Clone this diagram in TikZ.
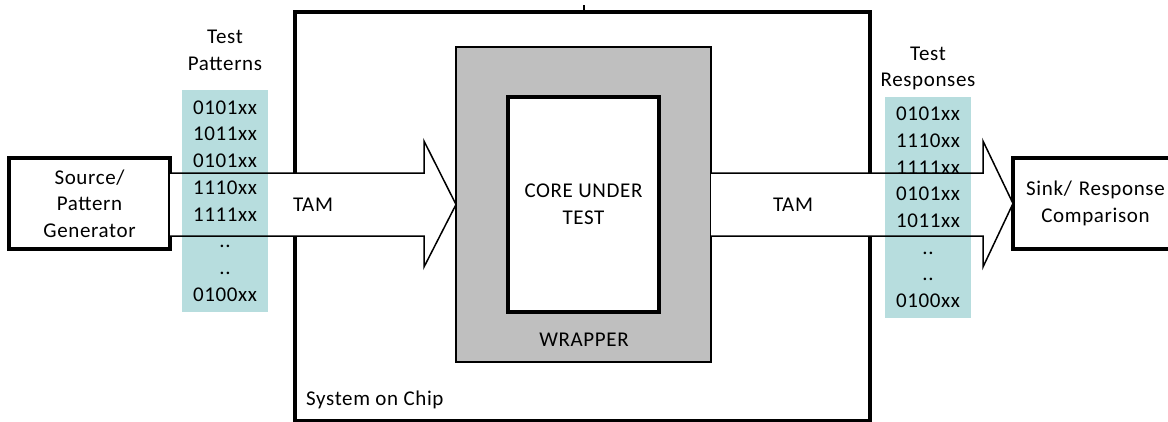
\documentclass[tikz,border=0pt]{standalone}
\usepackage{fontspec}
\setmainfont{Carlito}[LetterSpace=3]
\definecolor{tealbg}{RGB}{183,221,222}
\definecolor{wrapgray}{RGB}{191,191,191}
\begin{document}
\begin{tikzpicture}[x=1pt,y=-1pt,
  font=\fontsize{21}{26.7}\selectfont,
  thickbox/.style={draw=black,line width=3.8pt,fill=white,outer sep=0pt,inner sep=0pt,align=center},
  column/.style={fill=tealbg,minimum width=86pt,minimum height=222pt,inner sep=0pt,outer sep=0pt,align=center},
  blockfill/.style={fill=white,draw=none},
  blockline/.style={draw=black,line width=1.5pt,line join=miter},
  lbl/.style={inner sep=0pt,align=center}]
\useasboundingbox (0,0) rectangle (1168,421);
\clip (0,0) rectangle (1168,421);
% System on chip
\draw[line width=3.8pt] (295,12) rectangle (870,421);
\draw[line width=1.5pt] (584,5) -- (584,11);
% wrapper and core
\node[draw=black,line width=1.3pt,fill=wrapgray,minimum width=255pt,minimum height=315pt,outer sep=0pt] (wrap) at (583.5,204.5) {};
\node[thickbox,minimum width=151pt,minimum height=215pt] (core) at (583.5,204.5) {CORE UNDER\\TEST};
% end boxes
\node[thickbox,minimum width=161pt,minimum height=91pt] (src) at (89.5,203.5) {Source/\\Pattern\\Generator};
\node[thickbox,minimum width=165pt,minimum height=91pt,text width=160pt] (sink) at (1095.5,203.5) {Sink/ Response\\Comparison};
% arrow fills
\coordinate (h1) at (424,0);
\coordinate (h2) at (983,0);
\path[blockfill] (src.east |- 0,173) -- (h1 |- 0,173) -- (h1 |- 0,141) -- (wrap.west) -- (h1 |- 0,267) -- (h1 |- 0,236) -- (src.east |- 0,236) -- cycle;
\path[blockfill] (wrap.east |- 0,173) -- (h2 |- 0,173) -- (h2 |- 0,141) -- (sink.west) -- (h2 |- 0,267) -- (h2 |- 0,236) -- (wrap.east |- 0,236) -- cycle;
% columns
\node[column] (pat) at (225,201) {0101xx\\1011xx\\0101xx\\1110xx\\1111xx\\..\\..\\0100xx};
\node[column,minimum height=221pt] (resp) at (928,207.5) {0101xx\\1110xx\\1111xx\\0101xx\\1011xx\\..\\..\\0100xx};
% arrow outlines
\draw[blockline] (src.east |- 0,173) -- (h1 |- 0,173) -- (h1 |- 0,141) -- (wrap.west) -- (h1 |- 0,267) -- (h1 |- 0,236) -- (src.east |- 0,236);
\draw[blockline] (wrap.east |- 0,173) -- (h2 |- 0,173) -- (h2 |- 0,141) -- (sink.west) -- (h2 |- 0,267) -- (h2 |- 0,236) -- (wrap.east |- 0,236);
% labels
\node[lbl] (tp) at (225,50) {Test\\Patterns};
\node[lbl] (tr) at (928,68.5) {Test\\Responses};
\node[lbl] (tam1) at (313,205) {TAM};
\node[lbl] (tam2) at (793,205) {TAM};
\node[lbl] (wl) at (584,340) {WRAPPER};
\node[lbl,anchor=west] (soc) at (306,400) {System on Chip};
\end{tikzpicture}
\end{document}
